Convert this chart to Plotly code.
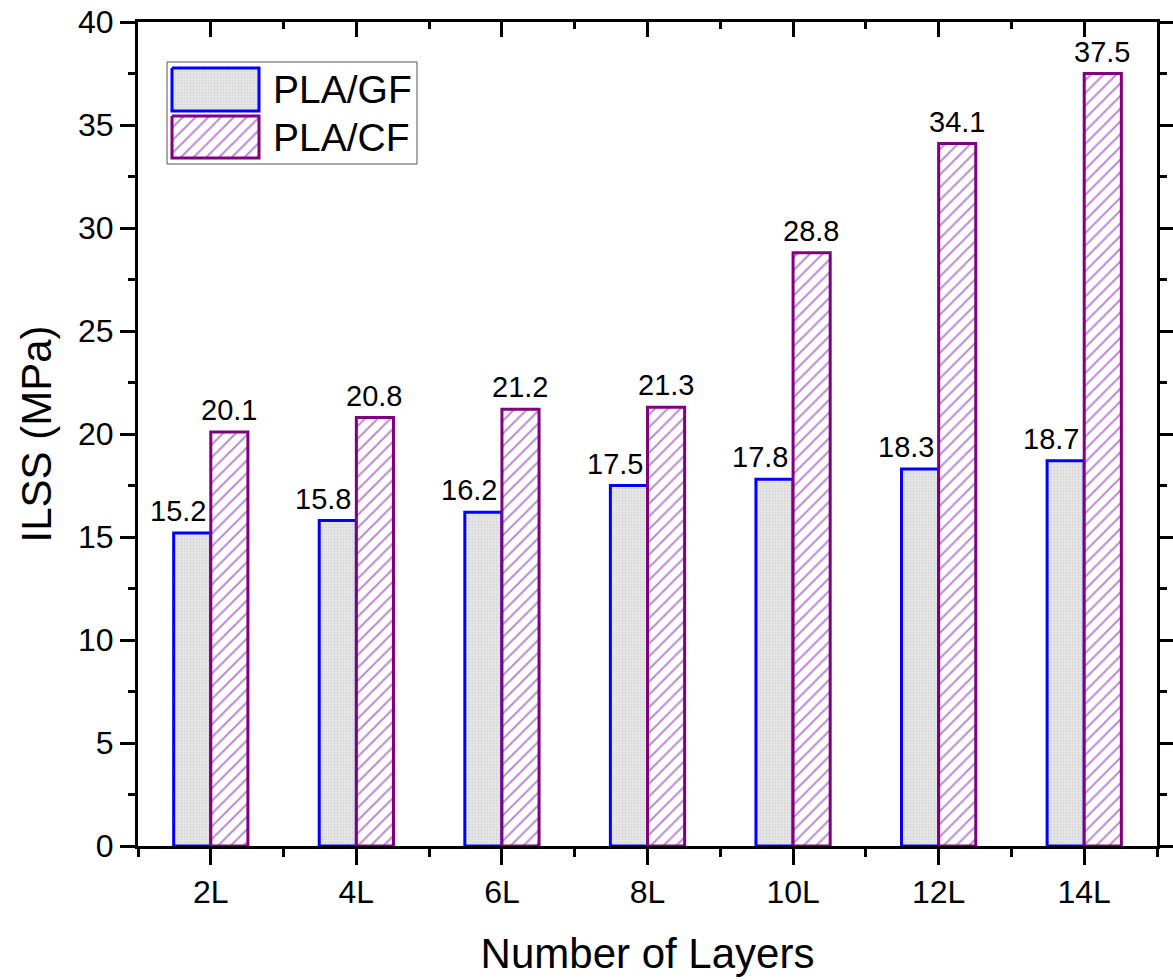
import numpy as np
import plotly.graph_objects as go

categories = ["2L", "4L", "6L", "8L", "10L", "12L", "14L"]
pla_gf = [15.2, 15.8, 16.2, 17.5, 17.8, 18.3, 18.7]
pla_cf = [20.1, 20.8, 21.2, 21.3, 28.8, 34.1, 37.5]
series_names = ["PLA/GF", "PLA/CF"]
y_ticks = [0, 5, 10, 15, 20, 25, 30, 35, 40]

FONT = "Liberation Sans, Arial, sans-serif"
x = np.arange(len(categories))

GF_LINE = "#0000ff"
CF_LINE = "#800080"
gf_pattern = dict(shape=".", fgcolor="#c4c4c4", bgcolor="#e8e8e8", size=3, solidity=0.4)
cf_pattern = dict(shape="/", fgcolor="#7d10a8", bgcolor="#ffffff", size=9, solidity=0.22)

fig = go.Figure()
fig.add_trace(go.Bar(x=x, y=pla_gf, name=series_names[0],
                     marker=dict(color="#e8e8e8", pattern=gf_pattern,
                                 line=dict(color=GF_LINE, width=3)),
                     showlegend=False))
fig.add_trace(go.Bar(x=x, y=pla_cf, name=series_names[1],
                     marker=dict(color="#ffffff", pattern=cf_pattern,
                                 line=dict(color=CF_LINE, width=3)),
                     showlegend=False))
# invisible helper so the top (inward-tick) axis is drawn
fig.add_trace(go.Scatter(x=x, y=pla_gf, xaxis="x2", yaxis="y", mode="markers",
                         marker=dict(opacity=0), showlegend=False, hoverinfo="skip"))

# value labels
for i, v in enumerate(pla_gf):
    fig.add_annotation(x=x[i], y=v, text=f"{v:.1f}", showarrow=False,
                       xanchor="center", yanchor="bottom", xshift=-33, yshift=4,
                       font=dict(family=FONT, size=29, color="black"))
for i, v in enumerate(pla_cf):
    fig.add_annotation(x=x[i], y=v, text=f"{v:.1f}", showarrow=False,
                       xanchor="center", yanchor="bottom", xshift=18, yshift=4,
                       font=dict(family=FONT, size=29, color="black"))

# custom legend (swatches drawn on a helper [0,1] axis)
L, R, T, B = 138, 1157, 22, 846
def px(xp): return (xp - L) / (R - L)
def py(yp): return (B - yp) / (B - T)

sw = [(172, 259, 68, 111), (172, 259, 116, 158)]
pats = [(gf_pattern, GF_LINE, "#e8e8e8"), (cf_pattern, CF_LINE, "#ffffff")]
for (x0, x1, y0, y1), (pat, lc, fc), nm in zip(sw, pats, series_names):
    fig.add_trace(go.Scatter(
        x=[px(x0), px(x1), px(x1), px(x0), px(x0)],
        y=[py(y0), py(y0), py(y1), py(y1), py(y0)],
        xaxis="x3", yaxis="y3", mode="lines", fill="toself",
        fillcolor=fc, fillpattern=pat, line=dict(color=lc, width=3),
        showlegend=False, hoverinfo="skip"))
    fig.add_annotation(xref="paper", yref="paper", x=px(271), y=py((y0 + y1) / 2),
                       text=nm, showarrow=False, xanchor="left", yanchor="middle",
                       font=dict(family=FONT, size=39, color="black"))
fig.add_shape(type="rect", xref="paper", yref="paper",
              x0=px(167), x1=px(417), y0=py(62), y1=py(164),
              line=dict(color="#555555", width=1), fillcolor="rgba(0,0,0,0)", layer="below")

axis_common = dict(showline=True, linecolor="black", linewidth=3, automargin=False,
                   tickcolor="black", tickwidth=2.5, showgrid=False, zeroline=False)

fig.update_layout(
    width=1173, height=980,
    margin=dict(l=L, r=1173 - R, t=T, b=980 - B, autoexpand=False),
    paper_bgcolor="white", plot_bgcolor="white",
    barmode="group", bargap=0.49, bargroupgap=0,
    font=dict(family=FONT, color="black"),
    xaxis=dict(range=[-0.5, len(categories) - 0.5], tickvals=x, ticktext=categories,
               ticks="outside", ticklen=16, tickfont=dict(size=32),
               minor=dict(tickvals=list(np.arange(-0.5, len(categories), 1.0)),
                          ticks="outside", ticklen=8, tickwidth=2.5, tickcolor="black"),
               title=dict(text="Number of Layers", font=dict(size=42), standoff=30),
               mirror=False, **axis_common),
    xaxis2=dict(overlaying="x", side="top", anchor="y",
                range=[-0.5, len(categories) - 0.5], tickvals=x, showticklabels=False,
                ticks="inside", ticklen=15,
                minor=dict(tickvals=list(np.arange(-0.5, len(categories), 1.0)),
                           ticks="inside", ticklen=7, tickwidth=2.5, tickcolor="black"),
                **axis_common),
    xaxis3=dict(overlaying="x", range=[0, 1], visible=False, fixedrange=True),
    yaxis=dict(range=[0, 40], tickvals=y_ticks, ticks="outside", ticklen=15,
               tickfont=dict(size=32), mirror="ticks",
               minor=dict(dtick=2.5, tick0=0, ticks="outside", ticklen=7,
                          tickwidth=2.5, tickcolor="black"),
               title=dict(text="ILSS (MPa)", font=dict(size=42), standoff=14),
               **axis_common),
    yaxis3=dict(overlaying="y", range=[0, 1], visible=False, fixedrange=True),
)

fig.write_html("out.html")
